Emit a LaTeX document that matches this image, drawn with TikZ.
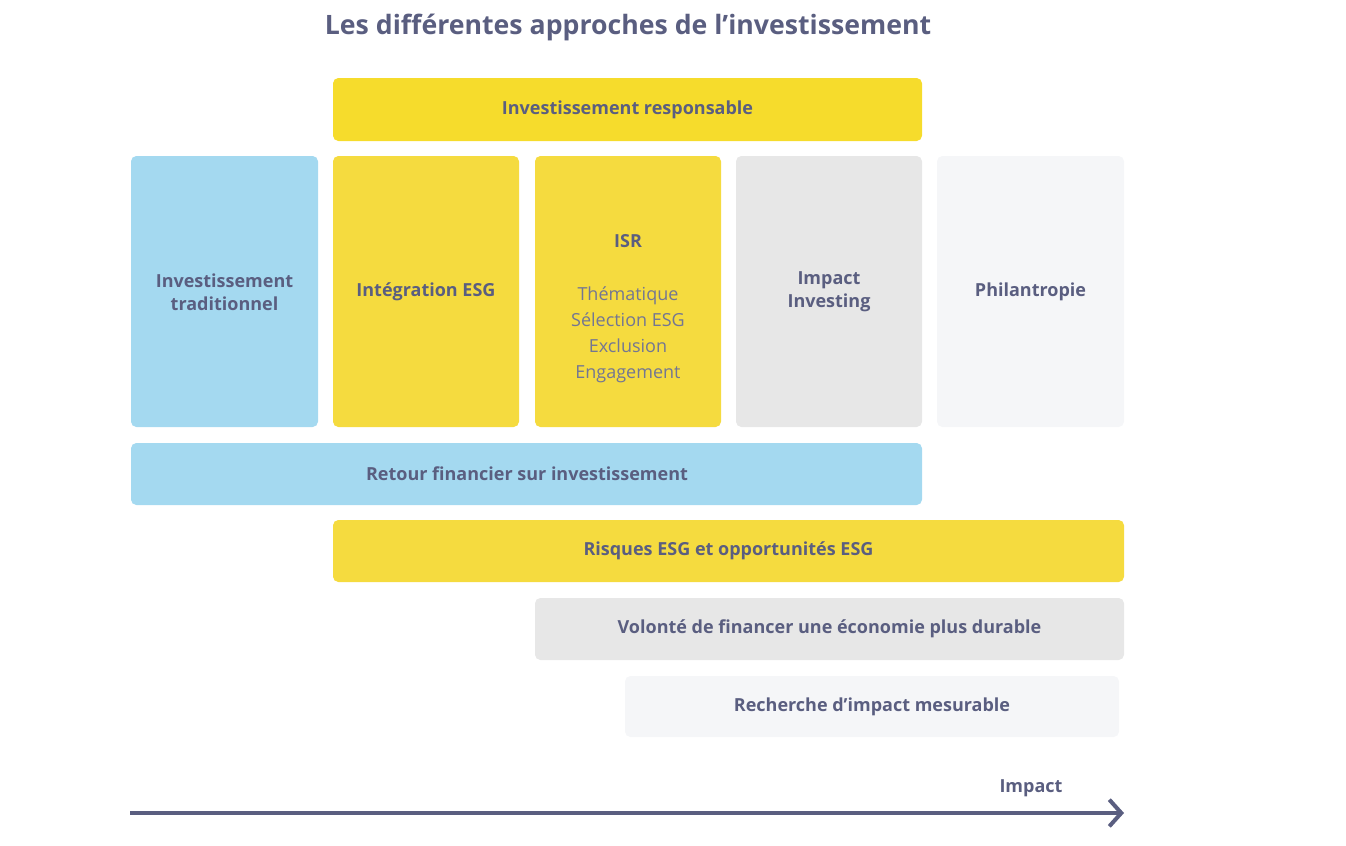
\documentclass[tikz,border=0pt]{standalone}
\usepackage{fontspec}
\setmainfont{Open Sans}
\usetikzlibrary{arrows.meta}
\definecolor{txt}{HTML}{5A5E80}
\definecolor{yel}{HTML}{F5DB3F}
\definecolor{yeltop}{HTML}{F6DC2C}
\definecolor{blu}{HTML}{A4D9F0}
\definecolor{gry}{HTML}{E7E7E7}
\definecolor{lgt}{HTML}{F5F6F8}
\begin{document}
\begin{tikzpicture}[x=0.75pt,y=-0.75pt,
  box/.style={draw=none,rounded corners=4pt,inner sep=0pt},
  lbl/.style={font=\fontsize{13.5}{17}\selectfont\bfseries,text=txt,align=center}]
\useasboundingbox (0,0) rectangle (1346,846);
\node[font=\fontsize{20}{24}\selectfont\bfseries,text=txt] (title) at (628,27) {Les différentes approches de l’investissement};
\fill[box,yeltop] (333,78) rectangle (922,141);
\node[lbl] (ir) at (627.5,110) {Investissement responsable};
\fill[box,blu] (131,156) rectangle (318,427);
\node[lbl] (trad) at (224.5,292) {Investissement\\traditionnel};
\fill[box,yel] (333,156) rectangle (519,427);
\node[lbl] (esg) at (426,292) {Intégration ESG};
\fill[box,yel] (535,156) rectangle (721,427);
\node[lbl] (isr) at (628,241) {ISR};
\node[font=\fontsize{13.5}{19.5}\selectfont,text=txt!85,align=center,anchor=north] (isrl) at (628,282) {Thématique\\Sélection ESG\\Exclusion\\Engagement};
\fill[box,gry] (736,156) rectangle (922,427);
\node[lbl] (imp) at (829,292) {Impact\\Investing};
\fill[box,lgt] (937,156) rectangle (1124,427);
\node[lbl] (phi) at (1030.5,292) {Philantropie};
\fill[box,blu] (131,443) rectangle (922,505);
\node[lbl] (ret) at (527,474) {Retour financier sur investissement};
\fill[box,yel] (333,520) rectangle (1124,582);
\node[lbl] (risk) at (728.5,551) {Risques ESG et opportunités ESG};
\fill[box,gry] (535,598) rectangle (1124,660);
\node[lbl] (vol) at (829.5,629) {Volonté de financer une économie plus durable};
\fill[box,lgt] (625,676) rectangle (1119,737);
\node[lbl] (rech) at (872,706.5) {Recherche d’impact mesurable};
\coordinate (a0) at (130,813);
\coordinate (a1) at (1124,813);
\draw[txt,line width=3pt,-{Straight Barb[length=9pt,width=20pt,line width=3pt]}] (a0) -- (a1);
\node[lbl] (impl) at (1031,788) {Impact};
\end{tikzpicture}
\end{document}
